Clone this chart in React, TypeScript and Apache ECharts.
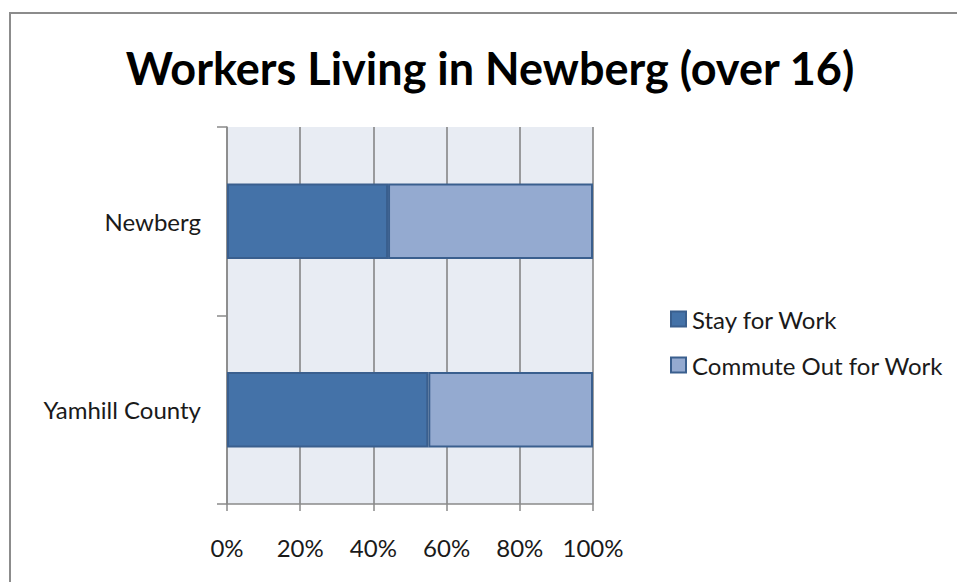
import React, { useEffect, useRef } from "react";
import * as echarts from "echarts";

const categories = ["Newberg", "Yamhill County"];
const stayForWork = [44, 55];
const commuteOut = [56, 45];
const xTicks = [0, 20, 40, 60, 80, 100];

const FONT = "Lato, 'Open Sans', sans-serif";

export default function App() {
  const ref = useRef<HTMLDivElement>(null);
  useEffect(() => {
    if (!ref.current) return;
    const chart = echarts.init(ref.current, undefined, { renderer: "svg" });
    chart.setOption({
      animation: false,
      backgroundColor: "#ffffff",
      title: {
        text: "Workers Living in Newberg (over 16)",
        left: 485,
        textAlign: "center",
        top: 40,
        textStyle: { fontFamily: FONT, fontSize: 45, fontWeight: "bold", color: "#000" },
      },
      graphic: [
        {
          type: "rect",
          shape: { x: 10, y: 13, width: 1000, height: 700 },
          style: { fill: "none", stroke: "#8c8c8c", lineWidth: 2 },
          silent: true,
        },
      ],
      legend: {
        orient: "vertical",
        left: 665,
        top: 302,
        itemWidth: 15,
        itemHeight: 15,
        itemGap: 22,
        icon: "rect",
        textStyle: { fontFamily: FONT, fontSize: 24, color: "#1a1a1a", padding: [0, 0, 0, 1] },
        data: ["Stay for Work", "Commute Out for Work"],
      },
      grid: {
        left: 227,
        top: 127,
        width: 366,
        height: 377,
        show: true,
        backgroundColor: "#E8ECF3",
        borderWidth: 0,
      },
      xAxis: {
        type: "value",
        min: 0,
        max: 100,
        interval: 20,
        axisLine: { show: true, lineStyle: { color: "#8a8a8a", width: 1.5 } },
        axisTick: { show: true, length: 7, lineStyle: { color: "#8a8a8a", width: 1.5 } },
        splitLine: { show: true, lineStyle: { color: "#7f7f7f", width: 1.5 } },
        axisLabel: {
          formatter: (v: number) => (xTicks.includes(v) ? v + "%" : ""),
          fontFamily: FONT,
          fontSize: 24,
          color: "#1a1a1a",
          margin: 31,
        },
      },
      yAxis: {
        type: "category",
        data: categories,
        inverse: true,
        axisLine: { show: true, lineStyle: { color: "#8a8a8a", width: 1.5 } },
        axisTick: { show: true, length: 10, lineStyle: { color: "#8a8a8a", width: 1.5 } },
        axisLabel: { fontFamily: FONT, fontSize: 24, color: "#1a1a1a", margin: 26 },
      },
      series: [
        {
          name: "Stay for Work",
          type: "bar",
          stack: "total",
          barWidth: "40%",
          data: stayForWork,
          itemStyle: { color: "#4472A8", borderColor: "#3A5F8E", borderWidth: 2 },
        },
        {
          name: "Commute Out for Work",
          type: "bar",
          stack: "total",
          barWidth: "40%",
          data: commuteOut,
          itemStyle: { color: "#94AAD0", borderColor: "#3A5F8E", borderWidth: 2 },
        },
      ],
    });
    return () => chart.dispose();
  }, []);
  return (
    <div
      ref={ref}
      style={{ position: "absolute", left: 0, top: 0, width: 957, height: 582 }}
    />
  );
}
